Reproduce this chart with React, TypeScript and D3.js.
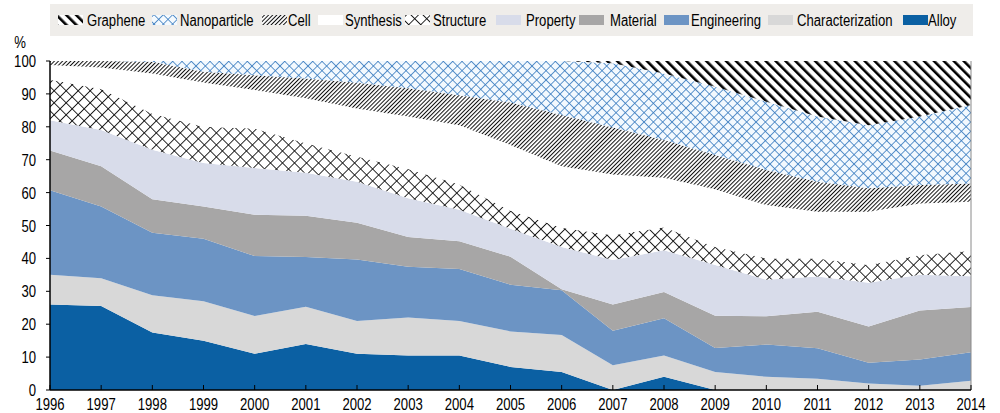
import React from 'react';
import * as d3 from 'd3';

const years = [1996, 1997, 1998, 1999, 2000, 2001, 2002, 2003, 2004, 2005, 2006, 2007, 2008, 2009, 2010, 2011, 2012, 2013, 2014];

const alloy = [26, 25.5, 17.5, 15, 11, 14, 11, 10.5, 10.5, 7, 5.5, 0, 4, 0, 0, 0, 0, 0, 0];
const characterization = [9, 8.5, 11.3, 12, 11.5, 11.3, 10, 11.5, 10.5, 10.8, 11.2, 7.5, 6.5, 5.5, 4, 3.4, 2, 1.3, 2.8];
const engineering = [25.7, 21.8, 19, 19, 18.2, 15.1, 18.7, 15.5, 15.8, 14.2, 13.6, 10.5, 11.3, 7.3, 9.8, 9.3, 6.3, 8, 8.7];
const material = [12.1, 12.2, 10.2, 9.8, 12.6, 12.6, 11.1, 9, 8.4, 8.5, 0.3, 8, 8, 9.8, 8.6, 11.1, 11, 14.9, 13.7];
const property = [9.2, 11, 15, 13.2, 14.2, 13, 12.5, 11.8, 9.6, 8.5, 12.9, 13.5, 12.7, 15.4, 11.1, 10.7, 13.3, 10.8, 9.4];
const structure = [12.3, 12.5, 11, 11, 12, 9, 7.7, 8.9, 7.7, 5.5, 5.8, 7.5, 7, 5.5, 6.5, 5.5, 5.4, 6, 7.7];
const synthesis = [4.5, 6.5, 12.2, 13.5, 11.7, 13.7, 14.6, 15.9, 18, 20, 18.7, 18.5, 15, 17.5, 16.2, 14.2, 16.2, 15.7, 14.9];
const cell = [1.2, 2, 3.6, 3.2, 4.5, 6, 7.8, 8.6, 9.1, 12.9, 15.6, 14.3, 11.5, 10.4, 10.7, 9.1, 7.1, 5.6, 5.6];
const nanoparticle = [0, 0, 0.2, 3.3, 4.3, 5.3, 6.6, 8.3, 10.4, 12.6, 16.4, 19.5, 20.2, 20.8, 20.7, 19.8, 19.2, 20.8, 23.8];
const graphene = [0, 0, 0, 0, 0, 0, 0, 0, 0, 0, 0, 0.7, 3.8, 7.8, 12.4, 16.9, 19.5, 16.9, 13.4];

const seriesKeys = ['Alloy', 'Characterization', 'Engineering', 'Material', 'Property', 'Structure', 'Synthesis', 'Cell', 'Nanoparticle', 'Graphene'];
const seriesValues: Record<string, number[]> = {
  Alloy: alloy,
  Characterization: characterization,
  Engineering: engineering,
  Material: material,
  Property: property,
  Structure: structure,
  Synthesis: synthesis,
  Cell: cell,
  Nanoparticle: nanoparticle,
  Graphene: graphene,
};
const legendOrder = ['Graphene', 'Nanoparticle', 'Cell', 'Synthesis', 'Structure', 'Property', 'Material', 'Engineering', 'Characterization', 'Alloy'];
const yTicks = [0, 10, 20, 30, 40, 50, 60, 70, 80, 90, 100];

const fills: Record<string, string> = {
  Alloy: '#0b60a3',
  Characterization: '#d8d8d8',
  Engineering: '#6c94c4',
  Material: '#a7a6a6',
  Property: '#d8dcea',
  Structure: 'url(#pStructure)',
  Synthesis: '#ffffff',
  Cell: 'url(#pCell)',
  Nanoparticle: 'url(#pNano)',
  Graphene: 'url(#pGraphene)',
};

// legend layout (swatch x, text x)
const legendPos: Record<string, [number, number]> = {
  Graphene: [58, 87],
  Nanoparticle: [152, 180],
  Cell: [262, 288],
  Synthesis: [318, 345],
  Structure: [405, 433],
  Property: [496, 526],
  Material: [579, 610],
  Engineering: [664, 691],
  Characterization: [768, 797],
  Alloy: [903, 928],
};

const FONT = "'Liberation Sans', Arial, sans-serif";
const NARROW = 0.82;

function Txt({ x, y, anchor = 'start', children }: { x: number; y: number; anchor?: string; children: any }) {
  return (
    <text
      transform={`translate(${x},${y}) scale(${NARROW},1)`}
      x={0}
      y={0}
      fontSize={16}
      textAnchor={anchor as any}
      fill="#000"
      fontFamily={FONT}
    >
      {children}
    </text>
  );
}

export default function App() {
  const W = 1000, H = 413;
  const x0 = 50, x1 = 971, yTop = 61, yBot = 390;
  const x = d3.scaleLinear().domain([1996, 2014]).range([x0, x1]);
  const y = d3.scaleLinear().domain([0, 100]).range([yBot, yTop]);

  const rows = years.map((yr, i) => {
    const r: any = { year: yr };
    seriesKeys.forEach(k => { r[k] = seriesValues[k][i]; });
    return r;
  });
  const stacked = d3.stack<any>().keys(seriesKeys)(rows);
  const area = d3.area<any>()
    .x(d => x(d.data.year))
    .y0(d => y(d[0]))
    .y1(d => y(Math.min(100, d[1])));

  return (
    <svg width={W} height={H} style={{ position: 'absolute', left: 0, top: 0, background: '#fff' }}>
      <defs>
        <pattern id="pGraphene" patternUnits="userSpaceOnUse" width="7" height="7" patternTransform="rotate(-45)">
          <rect width="7" height="7" fill="#fff" />
          <rect x="0" y="0" width="2.6" height="7" fill="#000" />
        </pattern>
        <pattern id="pCell" patternUnits="userSpaceOnUse" width="2.9" height="2.9" patternTransform="rotate(45)">
          <rect width="2.9" height="2.9" fill="#fff" />
          <rect x="0" y="0" width="1.0" height="2.9" fill="#111" />
        </pattern>
        <pattern id="pNano" patternUnits="userSpaceOnUse" width="6.6" height="6.6" patternTransform="rotate(45)">
          <rect width="6.6" height="6.6" fill="#f3f9fe" />
          <rect x="0" y="0" width="0.8" height="6.6" fill="#3a7cc0" />
          <rect x="0" y="0" width="6.6" height="0.8" fill="#3a7cc0" />
        </pattern>
        <pattern id="pStructure" patternUnits="userSpaceOnUse" width="8.5" height="8.5" patternTransform="rotate(45)">
          <rect width="8.5" height="8.5" fill="#fff" />
          <rect x="0" y="0" width="0.9" height="8.5" fill="#111" />
          <rect x="0" y="0" width="8.5" height="0.9" fill="#111" />
        </pattern>
        <clipPath id="plotClip">
          <rect x={x0} y={yTop} width={x1 - x0} height={yBot - yTop} />
        </clipPath>
      </defs>

      {/* legend */}
      <rect x={50} y={4} width={923} height={32} fill="#efedea" />
      {legendOrder.map(k => {
        const [sx, tx] = legendPos[k];
        return (
          <g key={k}>
            <rect x={sx} y={15} width={25} height={10} fill={fills[k]} />
            <Txt x={tx} y={26}>{k}</Txt>
          </g>
        );
      })}

      {/* areas */}
      <g clipPath="url(#plotClip)">
        {stacked.map(s => (
          <path key={s.key} d={area(s as any) || ''} fill={fills[s.key]} />
        ))}
      </g>

      {/* right border */}
      <line x1={x1} x2={x1} y1={yTop} y2={yBot} stroke="#8a8a8a" strokeWidth={1} />

      {/* y axis */}
      <line x1={x0} x2={x0} y1={yTop} y2={yBot} stroke="#000" strokeWidth={1.5} />
      {yTicks.map(t => (
        <g key={t}>
          <line x1={x0 - 4} x2={x0} y1={y(t)} y2={y(t)} stroke="#000" strokeWidth={1} />
          <Txt x={36} y={y(t) + 6} anchor="end">{t}</Txt>
        </g>
      ))}
      <Txt x={20} y={48} anchor="middle">%</Txt>

      {/* x axis */}
      <line x1={x0} x2={x1} y1={yBot} y2={yBot} stroke="#000" strokeWidth={1.5} />
      {years.map(yr => (
        <g key={yr}>
          <line x1={x(yr)} x2={x(yr)} y1={yBot - 5} y2={yBot} stroke="#000" strokeWidth={1} />
          <Txt x={x(yr)} y={410} anchor="middle">{yr}</Txt>
        </g>
      ))}
    </svg>
  );
}
